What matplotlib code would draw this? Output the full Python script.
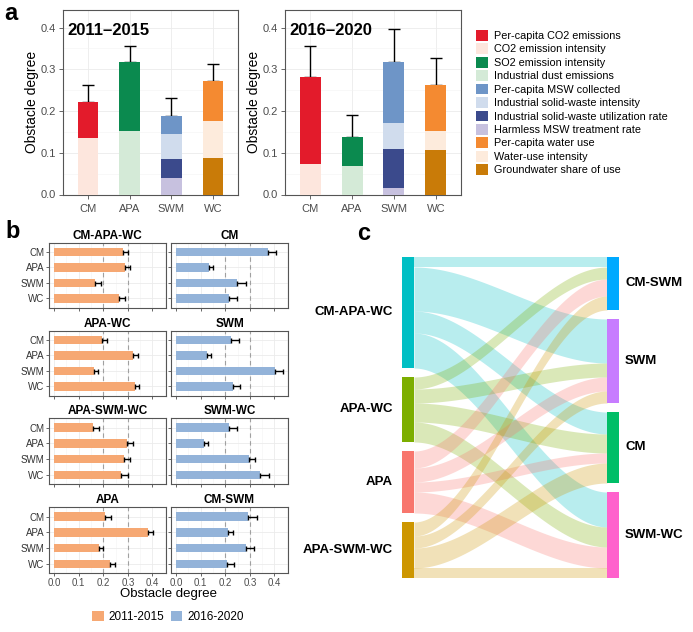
import matplotlib
matplotlib.use("Agg")
import matplotlib.pyplot as plt
import numpy as np
from matplotlib.patches import Patch
from matplotlib.ticker import MultipleLocator

plt.rcParams['font.family'] = ['Liberation Sans', 'DejaVu Sans']

# ---------------- data ----------------
groups = ['CM', 'APA', 'SWM', 'WC']

indicators = ['Per-capita CO2 emissions', 'CO2 emission intensity',
              'SO2 emission intensity', 'Industrial dust emissions',
              'Per-capita MSW collected', 'Industrial solid-waste intensity',
              'Industrial solid-waste utilization rate', 'Harmless MSW treatment rate',
              'Per-capita water use', 'Water-use intensity', 'Groundwater share of use']
indicator_group = ['CM', 'CM', 'APA', 'APA', 'SWM', 'SWM', 'SWM', 'SWM', 'WC', 'WC', 'WC']
indicator_colors = ['#E31B2B', '#FDE6DD', '#0B8A4F', '#D4EAD7', '#6E95C7', '#D0DCED',
                    '#3B4A8C', '#C7C1DF', '#F48A31', '#FDEBDC', '#C97B08']

vals_2011 = [0.085, 0.136, 0.164, 0.153, 0.043, 0.062, 0.044, 0.040, 0.095, 0.089, 0.088]
vals_2016 = [0.207, 0.074, 0.068, 0.069, 0.145, 0.063, 0.093, 0.016, 0.109, 0.047, 0.106]
err_2011 = [0.041, 0.039, 0.041, 0.040]
err_2016 = [0.075, 0.053, 0.079, 0.066]

# panel b: mean obstacle degree per cluster (CM, APA, SWM, WC) and error
b_titles = ['CM-APA-WC', 'CM', 'APA-WC', 'SWM', 'APA-SWM-WC', 'SWM-WC', 'APA', 'CM-SWM']
b_period = ['2011-2015', '2016-2020', '2011-2015', '2016-2020',
            '2011-2015', '2016-2020', '2011-2015', '2016-2020']
b_vals = [[0.279, 0.287, 0.167, 0.264],
          [0.375, 0.136, 0.249, 0.217],
          [0.195, 0.322, 0.161, 0.329],
          [0.224, 0.125, 0.404, 0.230],
          [0.157, 0.295, 0.285, 0.272],
          [0.214, 0.114, 0.295, 0.343],
          [0.209, 0.382, 0.182, 0.228],
          [0.294, 0.210, 0.285, 0.206]]
b_errs = [[0.021, 0.022, 0.023, 0.023],
          [0.032, 0.014, 0.036, 0.030],
          [0.022, 0.018, 0.017, 0.018],
          [0.031, 0.017, 0.030, 0.030],
          [0.027, 0.025, 0.024, 0.030],
          [0.033, 0.015, 0.027, 0.036],
          [0.021, 0.020, 0.018, 0.018],
          [0.034, 0.020, 0.030, 0.031]]
period_colors = {'2011-2015': '#F6A873', '2016-2020': '#93B3D9'}

# panel c: cluster transitions 2011-2015 -> 2016-2020
src_nodes = ['CM-APA-WC', 'APA-WC', 'APA', 'APA-SWM-WC']
dst_nodes = ['CM-SWM', 'SWM', 'CM', 'SWM-WC']
flows = np.array([[10, 44, 22, 35],
                  [12, 14, 19, 20],
                  [17, 14, 10, 21],
                  [14, 12, 20, 10]])
node_colors = {'APA': '#F8766D', 'APA-SWM-WC': '#CD9600', 'APA-WC': '#7CAE00',
               'CM': '#00BE67', 'CM-APA-WC': '#00BFC4', 'CM-SWM': '#00A9FF',
               'SWM': '#C77CFF', 'SWM-WC': '#FF61CC'}

# ---------------- layout helpers ----------------
W, H = 693, 632
fig = plt.figure(figsize=(W / 100, H / 100), dpi=100)


def box(l, t, r, b):
    return [l / W, 1 - b / H, (r - l) / W, (b - t) / H]


def style_frame(ax):
    for s in ax.spines.values():
        s.set_color('#555555')
        s.set_linewidth(0.8)
    ax.tick_params(colors='#4D4D4D', length=3, width=0.6)


# ---------------- panel a ----------------
def stacked(ax, vals, errs, title):
    x = np.arange(1, len(groups) + 1)
    for gi, g in enumerate(groups):
        idx = [i for i, ig in enumerate(indicator_group) if ig == g][::-1]
        bottom = 0
        for i in idx:
            ax.bar(x[gi], vals[i], width=0.5, bottom=bottom, color=indicator_colors[i],
                   zorder=3)
            bottom += vals[i]
        ax.errorbar(x[gi], bottom, yerr=[[0], [errs[gi]]], color='black', lw=1,
                    capsize=4, capthick=1, zorder=2)
    ax.set_xlim(0.4, 4.6)
    ax.set_ylim(0, 0.442)
    ax.set_xticks(x)
    ax.set_xticklabels(groups, fontsize=8, color='#222222')
    ax.set_yticks([0, 0.1, 0.2, 0.3, 0.4])
    ax.set_yticklabels(['0.0', '0.1', '0.2', '0.3', '0.4'], fontsize=8)
    ax.yaxis.set_minor_locator(MultipleLocator(0.05))
    ax.grid(True, which='major', color='#EBEBEB', lw=0.6, zorder=0)
    ax.grid(True, which='minor', axis='y', color='#F3F3F3', lw=0.4, zorder=0)
    ax.set_axisbelow(True)
    ax.set_ylabel('Obstacle degree', fontsize=10, labelpad=1)
    ax.text(0.023, 0.93, title, transform=ax.transAxes, fontsize=12,
            fontweight='bold', va='top', ha='left')
    style_frame(ax)
    ax.tick_params(axis='y', which='minor', length=0)
    ax.tick_params(axis='y', pad=2)


ax1 = fig.add_axes(box(63, 10, 238, 194.5))
stacked(ax1, vals_2011, err_2011, '2011–2015')
ax2 = fig.add_axes(box(285, 10, 461, 194.5))
stacked(ax2, vals_2016, err_2016, '2016–2020')

handles = [Patch(facecolor=c, edgecolor='none') for c in indicator_colors]
fig.legend(handles, indicators, loc='upper left', bbox_to_anchor=(476 / W, 1 - 30 / H),
           frameon=False, fontsize=7.8, handlelength=1.15, handleheight=1.15,
           labelspacing=0.22, handletextpad=0.55, borderaxespad=0, borderpad=0)

# ---------------- panel b ----------------
cols_x = [(49, 166), (171, 288)]
rows_y = [(242.7, 307.7), (330.7, 395.7), (418.3, 484.3), (507.3, 573.3)]
ypos = np.array([4, 3, 2, 1])
for k, title in enumerate(b_titles):
    r, c = divmod(k, 2)
    ax = fig.add_axes(box(cols_x[c][0], rows_y[r][0], cols_x[c][1], rows_y[r][1]))
    col = period_colors[b_period[k]]
    ax.barh(ypos, b_vals[k], height=0.55, color=col, zorder=3)
    ax.errorbar(b_vals[k], ypos, xerr=[np.zeros(4), b_errs[k]], fmt='none',
                ecolor='black', elinewidth=1, capsize=1.8, capthick=1, zorder=4)
    for xv in (0.2, 0.3):
        ax.axvline(xv, color='#A0A0A0', lw=0.8, ls=(0, (4, 3)), zorder=1)
    ax.set_xlim(-0.02, 0.455)
    ax.set_ylim(0.4, 4.6)
    ax.set_xticks([0, 0.1, 0.2, 0.3, 0.4])
    ax.xaxis.set_minor_locator(MultipleLocator(0.05))
    ax.set_yticks(ypos)
    ax.grid(True, which='major', color='#EBEBEB', lw=0.6, zorder=0)
    ax.grid(True, which='minor', axis='x', color='#F3F3F3', lw=0.4, zorder=0)
    ax.set_axisbelow(True)
    style_frame(ax)
    ax.tick_params(which='minor', length=0)
    ax.tick_params(length=2, pad=1.5)
    if c == 0:
        ax.set_yticklabels(groups, fontsize=7, color='#333333')
    else:
        ax.set_yticklabels([])
    if r == 3:
        ax.set_xticklabels(['0.0', '0.1', '0.2', '0.3', '0.4'], fontsize=7)
    else:
        ax.set_xticklabels([])
    ax.set_title(title, fontsize=8.5, fontweight='bold', pad=3)

fig.text(168 / W, 1 - 594 / H, 'Obstacle degree', fontsize=9.5, ha='center', va='center')
fig.legend([Patch(facecolor=period_colors['2011-2015']), Patch(facecolor=period_colors['2016-2020'])],
           ['2011-2015', '2016-2020'], loc='center', bbox_to_anchor=(168 / W, 1 - 617 / H),
           ncol=2, frameon=False, fontsize=8.5, handlelength=1.0, handleheight=1.0,
           columnspacing=0.5, handletextpad=0.4)

# ---------------- panel c (alluvial) ----------------
gap = 9
total = flows.sum()
axc = fig.add_axes(box(402, 257, 619, 578))
axc.set_xlim(0, 217)
axc.set_ylim(total + 3 * gap, 0)
axc.axis('off')
node_w = 12
xl, xr = node_w, 217 - node_w

src_tot = flows.sum(axis=1)
dst_tot = flows.sum(axis=0)
src_top = np.concatenate([[0], np.cumsum(src_tot + gap)[:-1]])
dst_top = np.concatenate([[0], np.cumsum(dst_tot + gap)[:-1]])

t = np.linspace(0, 1, 120)
s = 3 * t ** 2 - 2 * t ** 3
xs = xl + (xr - xl) * t
for i in range(len(src_nodes)):
    for j in range(len(dst_nodes)):
        f = flows[i, j]
        a0 = src_top[i] + flows[i, :j].sum()
        b0 = dst_top[j] + flows[:i, j].sum()
        top = a0 + (b0 - a0) * s
        axc.fill_between(xs, top, top + f, color=node_colors[src_nodes[i]],
                         alpha=0.28, lw=0)

for i, n in enumerate(src_nodes):
    axc.bar(node_w / 2, src_tot[i], width=node_w, bottom=src_top[i], color=node_colors[n])
    axc.text(-9, src_top[i] + src_tot[i] / 2, n, ha='right', va='center',
             fontsize=9.5, fontweight='bold')
for j, n in enumerate(dst_nodes):
    axc.bar(217 - node_w / 2, dst_tot[j], width=node_w, bottom=dst_top[j], color=node_colors[n])
    axc.text(217 + 6, dst_top[j] + dst_tot[j] / 2, n, ha='left', va='center',
             fontsize=9.5, fontweight='bold')

# ---------------- panel letters ----------------
fig.text(4 / W, 1 - 14 / H, 'a', fontsize=17, fontweight='bold', va='center')
fig.text(5 / W, 1 - 232 / H, 'b', fontsize=17, fontweight='bold', va='center')
fig.text(357 / W, 1 - 234 / H, 'c', fontsize=17, fontweight='bold', va='center')

fig.savefig('out.png', dpi=100)
